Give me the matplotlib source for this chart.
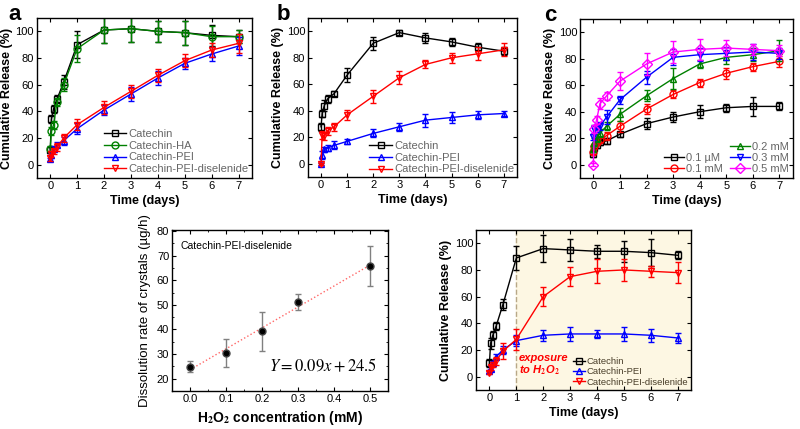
import numpy as np
import matplotlib
matplotlib.use('Agg')
import matplotlib.pyplot as plt
from matplotlib.ticker import AutoMinorLocator
from matplotlib.lines import Line2D

plt.rcParams['font.family'] = ['Liberation Sans', 'DejaVu Sans']
plt.rcParams['mathtext.fontset'] = 'stix'

# time points (days)
T = [0, 0.042, 0.125, 0.25, 0.5, 1, 2, 3, 4, 5, 6, 7]

# panel a
cat_a = [11, 34, 42, 49, 62, 90, 101, 102, 100, 99, 97, 96]
cat_a_err = [2, 3, 3, 3, 5, 10, 10, 10, 8, 9, 8, 5]
ha_a = [12, 25, 30, 47, 60, 87, 101, 102, 100, 99, 96, 96]
ha_a_err = [2, 3, 3, 3, 5, 10, 10, 10, 8, 9, 8, 5]
pei_a = [4, 7, 12, 15, 18, 27, 41, 53, 65, 76, 83, 89]
pei_a_err = [1, 2, 2, 2, 3, 4, 4, 5, 5, 4, 5, 7]
dis_a = [5, 8, 10, 13, 20, 30, 43, 55, 67, 78, 86, 91]
dis_a_err = [2, 2, 2, 3, 3, 4, 5, 5, 5, 5, 5, 7]

# panel b
cat_b = [28, 38, 44, 49, 53, 67, 91, 99, 95, 92, 88, 85]
cat_b_err = [3, 3, 4, 3, 2, 5, 5, 2, 4, 3, 3, 3]
pei_b = [0, 7, 11, 12, 14, 17, 23, 28, 33, 35, 37, 38]
pei_b_err = [1, 3, 2, 2, 3, 2, 3, 3, 5, 4, 3, 2]
dis_b = [0, 22, 21, 25, 28, 37, 51, 65, 75, 80, 83, 86]
dis_b_err = [1, 3, 3, 3, 3, 4, 5, 5, 3, 4, 5, 5]

# panel c
c_labels = ['0.1 \u00b5M', '0.1 mM', '0.2 mM', '0.3 mM', '0.5 mM']
c_vals = [
    [8, 13, 15, 17, 18, 23, 31, 36, 40, 43, 44, 44],
    [10, 14, 17, 19, 22, 29, 42, 53, 62, 69, 74, 78],
    [12, 17, 20, 24, 29, 38, 52, 65, 76, 81, 83, 86],
    [21, 27, 28, 29, 36, 49, 66, 81, 83, 84, 85, 84],
    [0, 27, 34, 46, 52, 63, 76, 85, 87, 88, 87, 86],
]
c_errs = [
    [2, 2, 2, 2, 2, 2, 4, 4, 5, 3, 7, 3],
    [2, 2, 2, 2, 3, 4, 4, 3, 3, 4, 3, 4],
    [2, 3, 3, 3, 3, 5, 4, 8, 3, 5, 5, 8],
    [2, 3, 3, 3, 5, 3, 5, 6, 5, 5, 6, 4],
    [1, 3, 3, 4, 3, 7, 8, 8, 8, 6, 4, 4],
]
c_colors = ['black', 'red', 'green', 'blue', 'magenta']
c_markers = ['s', 'o', '^', 'v', 'D']

# bottom left: dissolution rate
h2o2 = [0.0, 0.1, 0.2, 0.3, 0.5]
rate = [24.8, 30.5, 39.3, 51.2, 65.8]
rate_err = [2.3, 5.7, 7.9, 3.3, 8.2]

# bottom right: exposure to H2O2 after day 1
cat_e = [10, 25, 31, 38, 54, 89, 96, 95, 94, 94, 93, 91]
cat_e_err = [3, 4, 3, 3, 4, 9, 10, 8, 5, 8, 10, 3]
pei_e = [4, 6, 10, 15, 20, 27, 31, 32, 32, 32, 31, 29]
pei_e_err = [1, 2, 2, 2, 3, 4, 4, 5, 3, 5, 5, 4]
dis_e = [3, 7, 9, 12, 19, 28, 60, 75, 79, 80, 79, 78]
dis_e_err = [1, 2, 2, 3, 6, 8, 7, 7, 9, 8, 4, 8]


def style_axes(ax):
    ax.tick_params(direction='in', top=True, right=True, labelsize=8, length=3, width=0.8, pad=2)
    for s in ax.spines.values():
        s.set_linewidth(1.0)


def release_axes(ax):
    ax.set_xlim(-0.5, 7.5)
    ax.set_ylim(-10, 110)
    ax.set_xticks(range(8))
    ax.set_yticks(range(0, 101, 20))
    ax.set_xlabel('Time (days)', fontsize=9, fontweight='bold', labelpad=3)
    ax.set_ylabel('Cumulative Release (%)', fontsize=9, fontweight='bold', labelpad=2)
    style_axes(ax)


def series(ax, y, err, color, marker, label):
    ax.errorbar(T, y, yerr=err, color=color, fmt='none', capsize=2, elinewidth=1.0)
    ax.plot(T, y, color=color, marker=marker, ms=5, mfc='none', mec=color, mew=1.0,
            lw=1.0, label=label)


def gray_legend(ax, color='#666666', **kw):
    opts = dict(loc='lower right', fontsize=8, frameon=False, handlelength=2.0,
                handletextpad=0.2, labelspacing=0.15, borderaxespad=0.15, borderpad=0.2)
    opts.update(kw)
    leg = ax.legend(**opts)
    for t in leg.get_texts():
        t.set_color(color)
    return leg


fig = plt.figure(figsize=(8, 4.29), dpi=100)

# panel a
ax = fig.add_axes([0.046, 0.585, 0.269, 0.373])
series(ax, cat_a, cat_a_err, 'black', 's', 'Catechin')
series(ax, ha_a, ha_a_err, 'green', 'o', 'Catechin-HA')
series(ax, pei_a, pei_a_err, 'blue', '^', 'Catechin-PEI')
series(ax, dis_a, dis_a_err, 'red', 'v', 'Catechin-PEI-diselenide')
release_axes(ax)
gray_legend(ax)
fig.text(0.01, 0.953, 'a', fontsize=16, fontweight='bold')

# panel b
ax = fig.add_axes([0.385, 0.587, 0.261, 0.371])
series(ax, cat_b, cat_b_err, 'black', 's', 'Catechin')
series(ax, pei_b, pei_b_err, 'blue', '^', 'Catechin-PEI')
series(ax, dis_b, dis_b_err, 'red', 'v', 'Catechin-PEI-diselenide')
release_axes(ax)
gray_legend(ax, borderaxespad=0.05)
fig.text(0.346, 0.953, 'b', fontsize=16, fontweight='bold')

# panel c
ax = fig.add_axes([0.725, 0.585, 0.266, 0.371])
for y, e, c, m, lab in zip(c_vals, c_errs, c_colors, c_markers, c_labels):
    series(ax, y, e, c, m, lab)
release_axes(ax)
h, l = ax.get_legend_handles_labels()
blank = Line2D([], [], color='none')
handles = [blank, h[0], h[1], h[2], h[3], h[4]]
labels = ['', l[0], l[1], l[2], l[3], l[4]]
gray_legend(ax, handles=handles, labels=labels, ncol=2, handlelength=1.8,
            labelspacing=0.1, columnspacing=0.6)
fig.text(0.68, 0.95, 'c', fontsize=16, fontweight='bold')

# bottom left
ax = fig.add_axes([0.215, 0.089, 0.27, 0.375])
ax.errorbar(h2o2, rate, yerr=rate_err, fmt='o', color='black', ms=5, mec='#444444',
            ecolor='gray', elinewidth=1.0, capsize=2, zorder=3)
fit = np.polyfit(h2o2, rate, 1)
xf = np.array([0.0, 0.5])
ax.plot(xf, np.polyval(fit, xf), ':', color='#ff6666', lw=1.0, zorder=2)
ax.set_xlim(-0.05, 0.55)
ax.set_ylim(15, 80.5)
ax.set_xticks([0.0, 0.1, 0.2, 0.3, 0.4, 0.5])
ax.set_yticks(range(20, 81, 10))
ax.yaxis.set_minor_locator(AutoMinorLocator(2))
ax.xaxis.set_minor_locator(AutoMinorLocator(2))
style_axes(ax)
ax.tick_params(which='minor', direction='in', top=True, right=True, length=1.5)
ax.set_xlabel('H$_\\mathbf{2}$O$_\\mathbf{2}$ concentration (mM)', fontsize=10, fontweight='bold')
ax.set_ylabel('Dissolution rate of crystals (\u00b5g/h)', fontsize=9.5)
ax.text(0.04, 0.93, 'Catechin-PEI-diselenide', transform=ax.transAxes, fontsize=7.5, va='top')
ax.text(0.95, 0.12, '$Y = 0.09x + 24.5$', transform=ax.transAxes, fontsize=12, ha='right')

# bottom right
ax = fig.add_axes([0.595, 0.091, 0.269, 0.373])
ax.axvspan(1, 7.5, color='#fdf7e3', zorder=0)
ax.axvline(1, color='#b8a888', ls='--', lw=1.0, zorder=1)
series(ax, cat_e, cat_e_err, 'black', 's', 'Catechin')
series(ax, pei_e, pei_e_err, 'blue', '^', 'Catechin-PEI')
series(ax, dis_e, dis_e_err, 'red', 'v', 'Catechin-PEI-diselenide')
release_axes(ax)
gray_legend(ax, color='#4a3f2a', fontsize=6.8, handlelength=1.3, handletextpad=0.15,
            borderaxespad=0.15)
ax.text(1.08, 2, 'exposure\nto H$_\\mathbf{2}$O$_\\mathbf{2}$', color='red', fontsize=8,
        fontweight='bold', style='italic', linespacing=1.1)

fig.savefig('out.png', dpi=100)
plt.close(fig)
